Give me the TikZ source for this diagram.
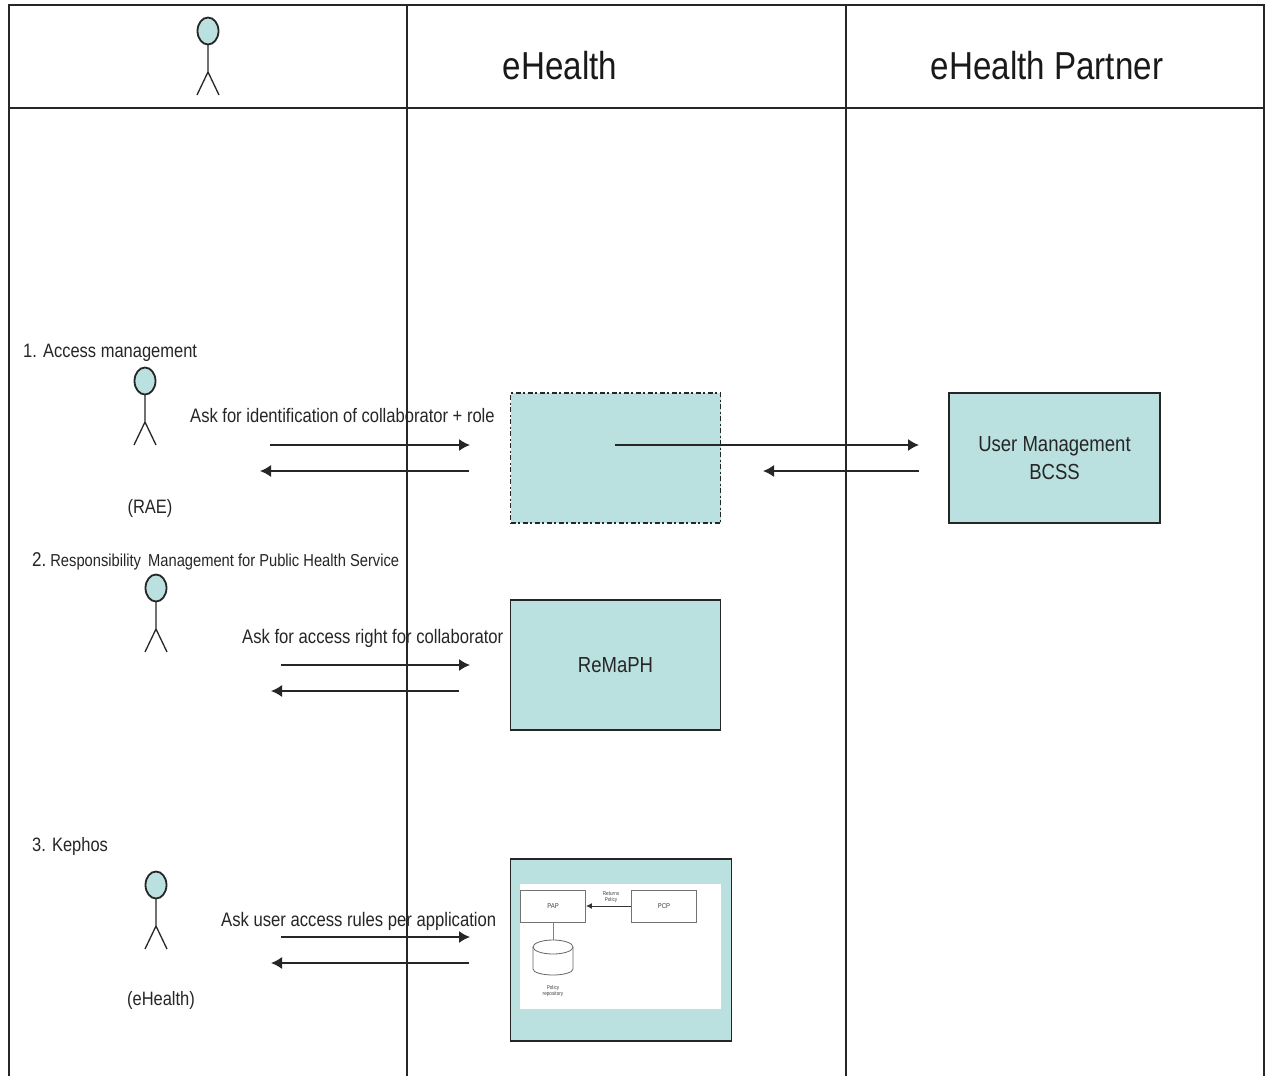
\documentclass[tikz,border=0pt]{standalone}
\usepackage{fontspec}
\setmainfont{Liberation Sans}[FakeStretch=0.85]
\usetikzlibrary{arrows.meta}
\definecolor{tealfill}{HTML}{BAE0E0}
\definecolor{inkc}{HTML}{262626}
\tikzset{
 x=1pt,y=-1pt,
 grid/.style={draw=inkc,line width=1.6pt},
 headtxt/.style={font=\fontsize{39}{42}\selectfont,text=black!90,inner sep=0pt},
 lbl/.style={font=\fontsize{19.4}{22}\selectfont,text=black!85,inner sep=0pt},
 box/.style={draw=inkc,line width=1.7pt,fill=tealfill,inner sep=0pt,align=center,font=\fontsize{21.8}{28}\selectfont,text=black!85},
 dbox/.style={box,dash pattern=on 5pt off 2.5pt on 2pt off 2.5pt},
 arr/.style={draw=inkc,line width=1.5pt,-{Latex[length=11pt,width=12pt]}},
 limb/.style={draw=inkc,line width=1.3pt},
 mini/.style={draw=black!55,line width=.9pt,fill=white,inner sep=0pt,font=\fontsize{7}{8}\selectfont,text=black!75},
 tiny/.style={font=\fontsize{5.5}{6}\selectfont,text=black!75,align=center,inner sep=0pt},
}
\newcommand{\stick}[3]{% name, x, head centre y
 \draw[draw=inkc,fill=tealfill,line width=1.8pt] (#2,#3) ellipse [x radius=10.5,y radius=13.5];
 \coordinate (#1neck) at (#2,#3+13.5);
 \coordinate (#1hip) at (#2,#3+41);
 \coordinate (#1l) at (#2-11,#3+64);
 \coordinate (#1r) at (#2+11,#3+64);
 \draw[limb] (#1neck) -- (#1hip) (#1l) -- (#1hip) -- (#1r);
}
\begin{document}
\begin{tikzpicture}
\useasboundingbox (0,0) rectangle (1269,1076);
\fill[white] (0,0) rectangle (1269,1076);
% table
\coordinate (tl) at (9,5); \coordinate (tr) at (1264,5);
\coordinate (hl) at (9,108); \coordinate (hr) at (1264,108);
\coordinate (bl) at (9,1076); \coordinate (br) at (1264,1076);
\coordinate (c1t) at (407,5); \coordinate (c1b) at (407,1076);
\coordinate (c2t) at (846,5); \coordinate (c2b) at (846,1076);
\draw[grid] (bl) -- (tl) -- (tr) -- (br);
\draw[grid] (hl) -- (hr);
\draw[grid] (c1t) -- (c1b);
\draw[grid] (c2t) -- (c2b);
\node[headtxt] (h1) at (560,66) {eHealth};
\node[headtxt] (h2) at (1047,66) {eHealth Partner};
% actors
\stick{a0}{208}{31}
\stick{a1}{145}{381}
\stick{a2}{156}{588}
\stick{a3}{156}{885}
% labels
\node[lbl,anchor=west] (l1) at (23,353) {1. Access management};
\node[lbl] (rae) at (150,508) {(RAE)};
\node[anchor=west,inner sep=0pt,text=black!85] (l2) at (32,561) {\fontsize{20}{22}\selectfont 2.\hspace{4pt}\fontsize{17.3}{20}\selectfont Responsibility\hspace{3pt} Management for Public Health Service};
\node[lbl,anchor=west] (l3) at (32,846) {3. Kephos};
\node[lbl] (ehl) at (161,1000) {(eHealth)};
\node[lbl,anchor=west,font=\fontsize{19.5}{22}\selectfont] (q1) at (190,416) {Ask for identification of collaborator + role};
\node[lbl,anchor=west,font=\fontsize{19.6}{22}\selectfont] (q2) at (242,638) {Ask for access right for collaborator};
\node[lbl,anchor=west,font=\fontsize{19.6}{22}\selectfont] (q3) at (221,921) {Ask user access rules per application};
% boxes
\node[dbox,minimum width=210pt,minimum height=130pt] (idb) at (615.5,458) {};
\node[box,minimum width=211pt,minimum height=130pt] (um) at (1054.5,458) {User Management\\BCSS};
\node[box,minimum width=210pt,minimum height=130pt] (rem) at (615.5,665) {ReMaPH};
\node[box,minimum width=221pt,minimum height=182pt] (kep) at (621,950) {};
% inner figure
\node[fill=white,minimum width=201pt,minimum height=125pt,inner sep=0pt] (inner) at (620.5,946) {};
\node[mini,minimum width=65pt,minimum height=32pt] (pap) at (553,906) {PAP};
\node[mini,minimum width=65pt,minimum height=32pt] (pcp) at (664,906) {PCP};
\draw[draw=black!80,line width=1pt,-{Latex[length=6pt,width=6pt]}] (pcp) -- (pap);
\node[tiny] (ret) at (611,897) {Returns\\Policy};
\coordinate (repot) at (553,940);
\draw[draw=black!60,line width=.8pt,fill=white] (533,947) -- (533,969) arc [start angle=180,end angle=0,x radius=20,y radius=6] -- (573,947) arc [start angle=0,end angle=-180,x radius=20,y radius=7] -- cycle;
\draw[draw=black!60,line width=.8pt] (533,947) arc [start angle=180,end angle=0,x radius=20,y radius=7];
\draw[draw=black!50,line width=.8pt] (pap) -- (repot);
\node[tiny] (rlab) at (553,991) {Policy\\repository};
% arrows
\coordinate (a1o) at (270,445); \coordinate (a1i) at (260,471);
\coordinate (id1) at (470,445); \coordinate (id2) at (469,471);
\coordinate (a2o) at (281,665); \coordinate (a2i) at (271,691);
\coordinate (re1) at (470,665); \coordinate (re2) at (459,691);
\coordinate (a3o) at (281,937); \coordinate (a3i) at (271,963);
\coordinate (ke1) at (470,937); \coordinate (ke2) at (469,963);
\coordinate (ci) at (615,445); \coordinate (um1) at (919,445);
\coordinate (um2) at (919,471); \coordinate (ci2) at (763,471);
\draw[arr] (a1o) -- (id1);
\draw[arr] (id2) -- (a1i);
\draw[arr] (a2o) -- (re1);
\draw[arr] (re2) -- (a2i);
\draw[arr] (a3o) -- (ke1);
\draw[arr] (ke2) -- (a3i);
\draw[arr] (ci) -- (um1);
\draw[arr] (um2) -- (ci2);
\end{tikzpicture}
\end{document}
